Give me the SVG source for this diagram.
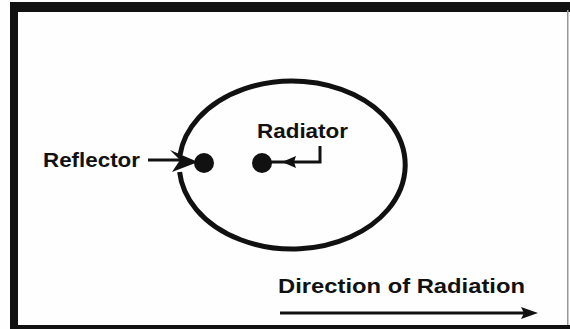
<svg xmlns="http://www.w3.org/2000/svg" width="570" height="329" viewBox="0 0 570 329">
<style>
.lbl{font-family:"Liberation Sans",Arial,sans-serif;font-weight:bold;font-size:21px;fill:#111}
.ln{stroke:#111;fill:none;stroke-width:3}
.dot{fill:#111}
</style>
<rect width="570" height="329" fill="#fdfefd"/>
<g id="frame" fill="#111">
<rect x="10" y="2" width="560" height="10"/>
<rect x="10" y="2" width="8" height="327"/>
<rect x="10" y="325" width="560" height="4"/>
<rect x="567" y="10" width="1.5" height="315" fill="#999"/>
</g>
<g id="field">
<path d="M180,155 A113 84 0 1 1 179.6,172" fill="none" stroke="#111" stroke-width="5"/>
</g>
<g id="reflector">
<circle class="dot" cx="204" cy="163" r="10"/>
<text class="lbl" x="43" y="167" textLength="97" lengthAdjust="spacingAndGlyphs">Reflector</text>
</g>
<g id="radiator">
<circle class="dot" cx="262" cy="163" r="10"/>
<text class="lbl" x="257" y="138" textLength="91" lengthAdjust="spacingAndGlyphs">Radiator</text>
</g>
<g id="direction">
<text class="lbl" x="278" y="293" textLength="247" lengthAdjust="spacingAndGlyphs">Direction of Radiation</text>
</g>
<g id="connectors">
<path class="ln" d="M148,160 H182"/>
<polygon class="dot" points="198,162 170,150 180,160 172,172"/>
<path class="ln" d="M320,146 V162 H270"/>
<polygon class="dot" points="282,162 296,156 294,162 296,168"/>
<path class="ln" d="M280,313 H525"/>
<polygon class="dot" points="538,313 521,307 524,313 521,319"/>
</g>
</svg>
